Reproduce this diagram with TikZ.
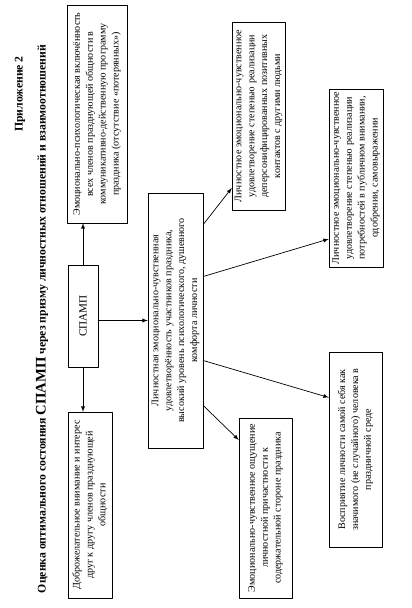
\documentclass[tikz,border=0pt]{standalone}
\usepackage{fontspec}
\setmainfont{Liberation Serif}
\usetikzlibrary{calc}
\begin{document}
\begin{tikzpicture}[x=0.3mm,y=-0.3mm,line cap=round,line join=round,
	box/.style={draw,rotate=90,align=center,inner sep=1pt,font=\fontsize{8.6}{11}\selectfont},
	arr/.style={semithick,-latex}]
	\useasboundingbox (0,0) rectangle (412,608);
	% titles
	\node[rotate=90,anchor=east,font=\bfseries\fontsize{10}{12}\selectfont] (pril) at (20,52) {Приложение 2};
	\node[rotate=90,font=\bfseries\fontsize{10}{12}\selectfont] (zag) at (42,319) {Оценка оптимального состояния {\fontsize{12.5}{12}\selectfont СПАМП} через призму личностных отношений и взаимоотношений};
	% boxes
	\node[box,minimum width=65.4mm,minimum height=18mm] (vkl) at (97,114) {Эмоционально-психологическая включённость\\ всех членов празднующей общности в\\ коммуникативно-действенную программу\\ праздника (отсутствие «потерянных»)};
	\node[box,minimum width=30.6mm,minimum height=9mm,font=\fontsize{9.5}{11}\selectfont] (spamp) at (83,316) {СПАМП};
	\node[box,minimum width=55.8mm,minimum height=13.2mm] (vnim) at (90,505) {Доброжелательное внимание и интерес\\ друг к другу членов празднующей\\ общности};
	\node[box,minimum width=76.5mm,minimum height=16.5mm] (udovl) at (175.5,320.5) {Личностная эмоционально-чувственная\\ удовлетворённость участников праздника,\\ высокий уровень психологического, душевного\\ комфорта личности};
	\node[box,minimum width=56.4mm,minimum height=15.9mm] (kont) at (258.5,116) {Личностное эмоционально-чувственное\\ удовлетворение степенью реализации\\ деперсонифицированных позитивных\\ контактов с другими людьми};
	\node[box,minimum width=53.4mm,minimum height=16.2mm] (publ) at (356,178) {Личностное эмоционально-чувственное\\ удовлетворение степенью реализации\\ потребностей в публичном внимании,\\ одобрении, самовыражении};
	\node[box,minimum width=58.5mm,minimum height=15.9mm] (vospr) at (355.5,449.5) {Восприятие личности самой себя как\\ значимого (не случайного) человека в\\ праздничной среде};
	\node[box,minimum width=54mm,minimum height=15.9mm] (prich) at (265.5,508) {Эмоционально-чувственное ощущение\\ личностной причастности к\\ содержательной стороне праздника};
	% arrows
	\draw[arr] (spamp.east) -- (spamp.east |- vkl.west);
	\draw[arr] (spamp.west) -- (spamp.west |- vnim.east);
	\draw[arr] (spamp.south |- udovl.north) -- (udovl.north);
	\draw[arr] ($(udovl.south)+(0,-96)$) -- ($(kont.north)+(0,72)$);
	\draw[arr] ($(udovl.south)+(0,-44)$) -- ($(publ.north)+(0,61)$);
	\draw[arr] ($(udovl.south)+(0,40)$) -- ($(vospr.north)+(0,-52)$);
	\draw[arr] ($(udovl.south)+(0,85)$) -- ($(prich.north)+(0,-68)$);
\end{tikzpicture}
\end{document}
